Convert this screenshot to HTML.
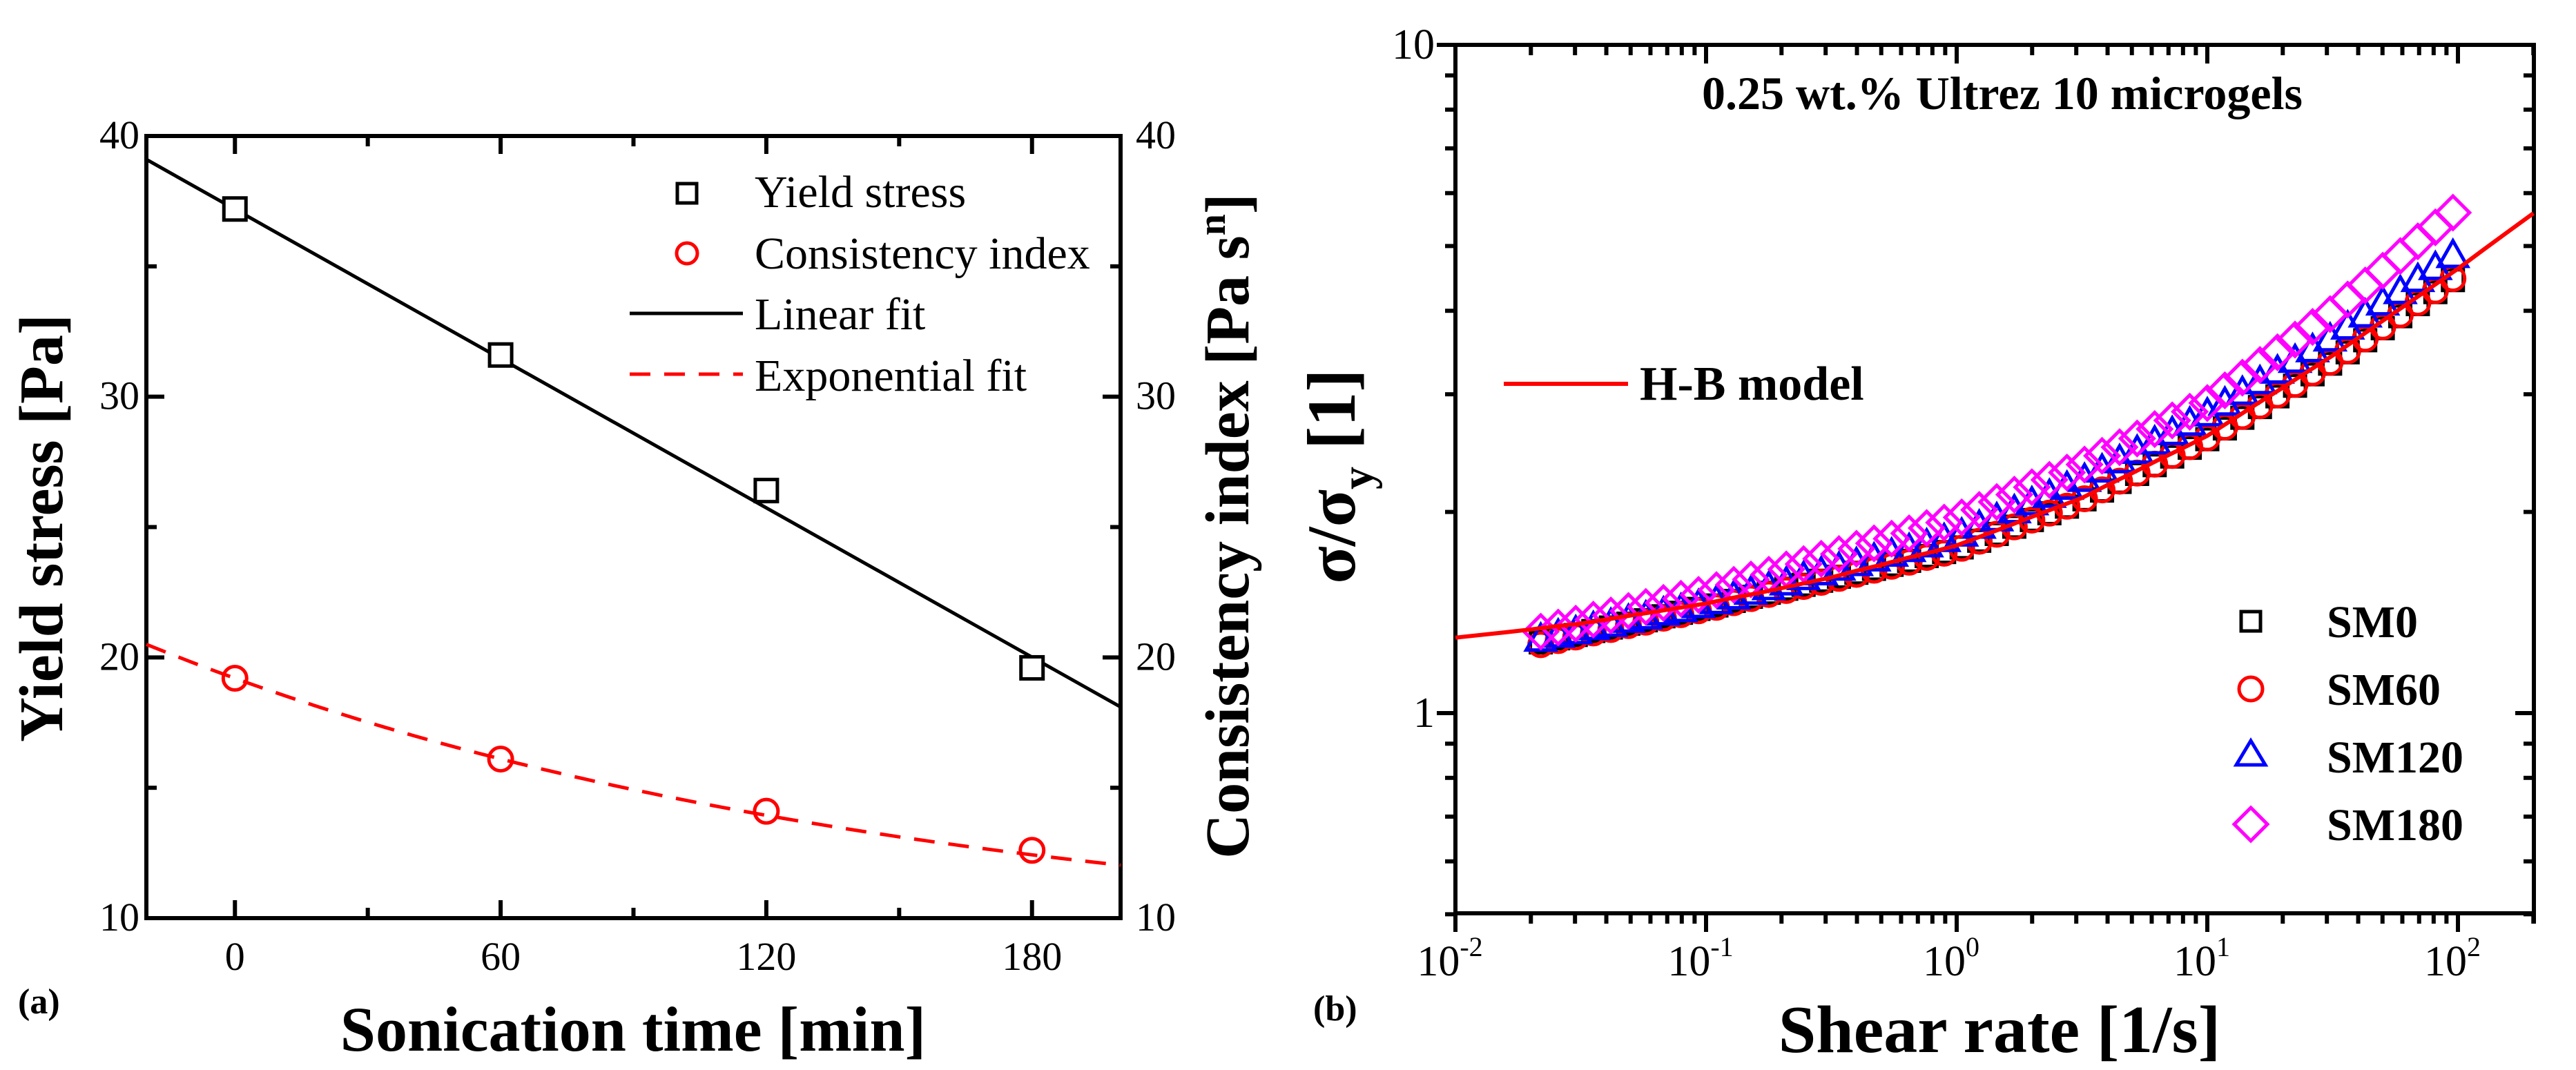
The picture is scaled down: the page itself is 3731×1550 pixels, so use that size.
<!DOCTYPE html>
<html><head><meta charset="utf-8"><style>
html,body{margin:0;padding:0;background:#fff}
svg{display:block}
text{font-family:"Liberation Serif",serif;fill:#000}
</style></head><body>
<svg id="fig" width="3731" height="1550" viewBox="0 0 3731 1550" xmlns="http://www.w3.org/2000/svg">
<g id="pa"></g>
<g id="pb"></g>
</svg>
<script>
// ---------- Panel (a) data ----------
const sonicationTimes = [0, 60, 120, 180];
const yieldStress = [37.2, 31.6, 26.4, 19.6];
const consistencyIndex = [19.2, 16.1, 14.1, 12.6];
const linearFitEnds = [[-20, 39.1], [200, 18.1]];
const expFitParams = [8.9, 10.3, 168]; // y0, A, t
const aXTicks = [0, 60, 120, 180];
const aXMinor = [30, 90, 150];
const aYTicks = [10, 20, 30, 40];
const aYMinor = [15, 25, 35];

// ---------- Panel (b) data ----------
const shearRate = [0.0219,0.0257,0.0302,0.0355,0.0417,0.0490,0.0575,0.0676,0.0794,0.0933,0.110,0.129,0.151,0.178,0.209,0.245,0.288,0.339,0.398,0.468,0.550,0.646,0.759,0.891,1.047,1.230,1.445,1.698,1.995,2.344,2.754,3.236,3.802,4.467,5.248,6.166,7.244,8.511,10.0,11.75,13.80,16.22,19.05,22.39,26.30,30.90,36.31,42.66,50.12,58.88,69.18,81.28,95.50];
const sm0 = [1.276,1.294,1.309,1.327,1.343,1.361,1.377,1.396,1.413,1.432,1.449,1.472,1.493,1.514,1.535,1.556,1.578,1.600,1.622,1.644,1.667,1.690,1.718,1.742,1.770,1.811,1.854,1.901,1.945,1.991,2.037,2.089,2.153,2.218,2.280,2.350,2.421,2.495,2.570,2.667,2.767,2.871,2.979,3.090,3.214,3.334,3.467,3.614,3.767,3.926,4.093,4.266,4.446];
const sm60 = [1.266,1.284,1.300,1.318,1.334,1.352,1.368,1.387,1.404,1.423,1.440,1.463,1.484,1.505,1.526,1.547,1.569,1.591,1.613,1.636,1.659,1.682,1.710,1.735,1.765,1.808,1.852,1.900,1.945,1.992,2.040,2.093,2.158,2.224,2.287,2.358,2.430,2.505,2.582,2.680,2.780,2.884,2.993,3.105,3.230,3.350,3.484,3.632,3.786,3.946,4.113,4.287,4.470];
const sm120 = [1.282,1.300,1.315,1.334,1.349,1.368,1.384,1.403,1.419,1.439,1.459,1.483,1.507,1.531,1.556,1.585,1.611,1.637,1.663,1.690,1.718,1.746,1.774,1.807,1.841,1.892,1.941,1.995,2.051,2.104,2.163,2.223,2.296,2.371,2.449,2.529,2.612,2.698,2.786,2.891,3.000,3.112,3.228,3.350,3.475,3.606,3.758,3.917,4.083,4.246,4.426,4.613,4.808];
const sm180 = [1.324,1.343,1.361,1.380,1.400,1.422,1.442,1.462,1.483,1.503,1.528,1.556,1.585,1.611,1.641,1.671,1.702,1.730,1.762,1.795,1.824,1.858,1.892,1.928,1.963,2.014,2.070,2.123,2.178,2.234,2.291,2.355,2.427,2.500,2.576,2.661,2.742,2.825,2.911,3.041,3.177,3.319,3.467,3.622,3.784,3.954,4.159,4.365,4.592,4.831,5.082,5.333,5.610];
const hbShear = [0.01,0.0126,0.0158,0.02,0.0251,0.0316,0.0398,0.0501,0.0631,0.0794,0.1,0.126,0.158,0.2,0.251,0.316,0.398,0.501,0.631,0.794,1,1.26,1.58,2,2.51,3.16,3.98,5.01,6.31,7.94,10,12.6,15.8,20,25.1,31.6,39.8,50.1,63.1,79.4,100,126,158,200];
const hbModel = [1.297,1.309,1.321,1.334,1.349,1.361,1.380,1.400,1.419,1.439,1.459,1.486,1.510,1.538,1.567,1.596,1.633,1.667,1.706,1.742,1.782,1.841,1.901,1.968,2.032,2.099,2.193,2.286,2.388,2.489,2.600,2.748,2.904,3.069,3.243,3.428,3.639,3.864,4.102,4.355,4.624,4.932,5.248,5.598];
const bXDecades = [-2, -1, 0, 1, 2];
const bYLabels = [1, 10];

const NS = "http://www.w3.org/2000/svg";
function mk(parent, tag, attrs) {
  const e = document.createElementNS(NS, tag);
  for (const k in attrs) e.setAttribute(k, attrs[k]);
  parent.appendChild(e);
  return e;
}
function txt(parent, x, y, s, size, weight, anchor) {
  const t = mk(parent, "text", {x: x, y: y, "font-size": size, "font-weight": weight || "normal", "text-anchor": anchor || "middle"});
  t.textContent = s;
  return t;
}

// ================= Panel (a) =================
const pa = document.getElementById("pa");
const aL = 212, aR = 1623, aT = 197, aB = 1330;
const ax = v => aL + (v - (-20)) / 220 * (aR - aL);
const ay = v => aB - (v - 10) / 30 * (aB - aT);

let e;
e = mk(pa, "rect", {x: aL, y: aT, width: aR - aL, height: aB - aT, fill: "none", stroke: "#000", "stroke-width": 6});



aXTicks.forEach(v => {
  const x = ax(v);
  mk(pa, "line", {x1: x, y1: aB, x2: x, y2: aB - 26, stroke: "#000", "stroke-width": 6});
  mk(pa, "line", {x1: x, y1: aT, x2: x, y2: aT + 26, stroke: "#000", "stroke-width": 6});
  e = txt(pa, x, 1405, String(v), 58);
  
  
});
aXMinor.forEach(v => {
  const x = ax(v);
  mk(pa, "line", {x1: x, y1: aB, x2: x, y2: aB - 15, stroke: "#000", "stroke-width": 6});
  mk(pa, "line", {x1: x, y1: aT, x2: x, y2: aT + 15, stroke: "#000", "stroke-width": 6});
});
aYTicks.forEach(v => {
  const y = ay(v);
  mk(pa, "line", {x1: aL, y1: y, x2: aL + 26, y2: y, stroke: "#000", "stroke-width": 6});
  mk(pa, "line", {x1: aR, y1: y, x2: aR - 26, y2: y, stroke: "#000", "stroke-width": 6});
  e = txt(pa, aL - 10, y + 18, String(v), 58, "normal", "end");
  
  
  e = txt(pa, aR + 22, y + 18, String(v), 58, "normal", "start");
  
  
});
aYMinor.forEach(v => {
  const y = ay(v);
  mk(pa, "line", {x1: aL, y1: y, x2: aL + 15, y2: y, stroke: "#000", "stroke-width": 6});
  mk(pa, "line", {x1: aR, y1: y, x2: aR - 15, y2: y, stroke: "#000", "stroke-width": 6});
});

e = mk(pa, "line", {x1: ax(linearFitEnds[0][0]), y1: ay(linearFitEnds[0][1]), x2: ax(linearFitEnds[1][0]), y2: ay(linearFitEnds[1][1]), stroke: "#000", "stroke-width": 5});


let pts = [];
for (let t = -20; t <= 200; t += 2) {
  const v = expFitParams[0] + expFitParams[1] * Math.exp(-t / expFitParams[2]);
  pts.push(ax(t).toFixed(1) + "," + ay(v).toFixed(1));
}
e = mk(pa, "polyline", {points: pts.join(" "), fill: "none", stroke: "#f00", "stroke-width": 5, "stroke-dasharray": "30,20"});



sonicationTimes.forEach((t, i) => {
  e = mk(pa, "rect", {x: ax(t) - 16, y: ay(yieldStress[i]) - 16, width: 32, height: 32, fill: "#fff", stroke: "#000", "stroke-width": 5});
  
  
  e = mk(pa, "circle", {cx: ax(t), cy: ay(consistencyIndex[i]), r: 17, fill: "none", stroke: "#f00", "stroke-width": 5});
  
  
});

const lgA = mk(pa, "g", {});


mk(lgA, "rect", {x: 981, y: 266, width: 28, height: 28, fill: "none", stroke: "#000", "stroke-width": 5});
mk(lgA, "circle", {cx: 995, cy: 367, r: 15, fill: "none", stroke: "#f00", "stroke-width": 5});
mk(lgA, "line", {x1: 912, y1: 454, x2: 1076, y2: 454, stroke: "#000", "stroke-width": 5});
mk(lgA, "line", {x1: 912, y1: 542, x2: 1076, y2: 542, stroke: "#f00", "stroke-width": 5, "stroke-dasharray": "30,20"});
[["Yield stress", 300], ["Consistency index", 389], ["Linear fit", 477], ["Exponential fit", 566]].forEach(r => {
  e = txt(lgA, 1093, r[1], r[0], 66, "normal", "start");
  
  
});

e = txt(pa, 0, 0, "Yield stress [Pa]", 90, "bold");
e.setAttribute("transform", "translate(90,765) rotate(-90)");


e = mk(pa, "text", {x: 0, y: 0, "font-size": 90, "font-weight": "bold", "text-anchor": "middle", transform: "translate(1808,762) rotate(-90)"});
e.innerHTML = 'Consistency index [Pa s<tspan dy="-34" font-size="56">n</tspan><tspan dy="34">]</tspan>';


e = txt(pa, 917, 1522, "Sonication time [min]", 92, "bold");


e = txt(pa, 26, 1468, "(a)", 52, "bold", "start");



// ================= Panel (b) =================
const pb = document.getElementById("pb");
const bL = 2108, bR = 3670, bT = 65, bB = 1323;
const decW = 363;
const bx = v => bL + (Math.log10(v) + 2) * decW;
const by = v => 1033 - Math.log10(v) * 968;

e = mk(pb, "rect", {x: bL, y: bT, width: bR - bL, height: bB - bT, fill: "none", stroke: "#000", "stroke-width": 6});



bXDecades.forEach(d => {
  const x = bx(Math.pow(10, d));
  mk(pb, "line", {x1: x, y1: bB, x2: x, y2: bB + 27, stroke: "#000", "stroke-width": 6});
  mk(pb, "line", {x1: x, y1: bT, x2: x, y2: bT + 27, stroke: "#000", "stroke-width": 6});
  const t = mk(pb, "text", {x: x - 8, y: 1413, "font-size": 62, "text-anchor": "middle"});
  t.innerHTML = '10<tspan dy="-28" font-size="40">' + String(d) + '</tspan>';
  
  
  for (let m = 2; m <= 9; m++) {
    const v = m * Math.pow(10, d);
    if (v > 200) break;
    const xm = bx(v);
    mk(pb, "line", {x1: xm, y1: bB, x2: xm, y2: bB + 15, stroke: "#000", "stroke-width": 6});
    mk(pb, "line", {x1: xm, y1: bT, x2: xm, y2: bT + 15, stroke: "#000", "stroke-width": 6});
  }
});
mk(pb, "line", {x1: bR, y1: bB, x2: bR, y2: bB + 15, stroke: "#000", "stroke-width": 6});
[0.5,0.6,0.7,0.8,0.9,1,2,3,4,5,6,7,8,9,10].forEach(v => {
  const y = by(v);
  const len = (v === 1 || v === 10) ? 27 : 15;
  mk(pb, "line", {x1: bL, y1: y, x2: bL - len, y2: y, stroke: "#000", "stroke-width": 6});
  mk(pb, "line", {x1: bR, y1: y, x2: bR - len, y2: y, stroke: "#000", "stroke-width": 6});
});
bYLabels.forEach(v => {
  e = txt(pb, bL - 30, by(v) + 20, String(v), 62, "normal", "end");
  
  
});

const sg0 = mk(pb, "g", {fill: "none", stroke: "#000", "stroke-width": 5});


shearRate.forEach((g, i) => {
  const el = mk(sg0, "rect", {x: bx(g) - 15, y: by(sm0[i]) - 15, width: 30, height: 30});
  
  
});
const sg1 = mk(pb, "g", {fill: "none", stroke: "#f00", "stroke-width": 5});


shearRate.forEach((g, i) => {
  const el = mk(sg1, "circle", {cx: bx(g), cy: by(sm60[i]), r: 17});
  
  
});
const sg2 = mk(pb, "g", {fill: "none", stroke: "#00f", "stroke-width": 5});


shearRate.forEach((g, i) => {
  const x = bx(g), y = by(sm120[i]);
  const el = mk(sg2, "polygon", {points: `${x},${y - 24} ${x + 21},${y + 13} ${x - 21},${y + 13}`});
  
  
});
const sg3 = mk(pb, "g", {fill: "none", stroke: "#f0f", "stroke-width": 5});


shearRate.forEach((g, i) => {
  const x = bx(g), y = by(sm180[i]);
  const el = mk(sg3, "polygon", {points: `${x},${y - 24} ${x + 24},${y} ${x},${y + 24} ${x - 24},${y}`});
  
  
});
e = mk(pb, "polyline", {points: hbShear.map((g, i) => bx(g).toFixed(1) + "," + by(hbModel[i]).toFixed(1)).join(" "), fill: "none", stroke: "#f00", "stroke-width": 6});



const lgB = mk(pb, "g", {});


mk(lgB, "rect", {x: 3246, y: 886, width: 28, height: 28, fill: "none", stroke: "#000", "stroke-width": 5});
mk(lgB, "circle", {cx: 3260, cy: 998, r: 17, fill: "none", stroke: "#f00", "stroke-width": 5});
mk(lgB, "polygon", {points: "3260,1073 3281,1108 3239,1108", fill: "none", stroke: "#00f", "stroke-width": 5});
mk(lgB, "polygon", {points: "3260,1170 3284,1194 3260,1218 3236,1194", fill: "none", stroke: "#f0f", "stroke-width": 5});
[["SM0", 923], ["SM60", 1021], ["SM120", 1119], ["SM180", 1217]].forEach(r => {
  e = txt(lgB, 3370, r[1], r[0], 66, "bold", "start");
  
  
});
mk(lgB, "line", {x1: 2178, y1: 556, x2: 2358, y2: 556, stroke: "#f00", "stroke-width": 6});
e = txt(lgB, 2375, 579, "H-B model", 70, "bold", "start");



e = txt(pb, 2900, 158, "0.25 wt.% Ultrez 10 microgels", 68, "bold");


e = mk(pb, "text", {x: 0, y: 0, "font-size": 100, "font-weight": "bold", "text-anchor": "middle", transform: "translate(1962,690) rotate(-90)"});
e.innerHTML = 'σ/σ<tspan dy="26" font-size="66">y</tspan><tspan dy="-26"> [1]</tspan>';


e = txt(pb, 2896, 1524, "Shear rate [1/s]", 98, "bold");


e = txt(pb, 1902, 1478, "(b)", 52, "bold", "start");


</script>
</body></html>
